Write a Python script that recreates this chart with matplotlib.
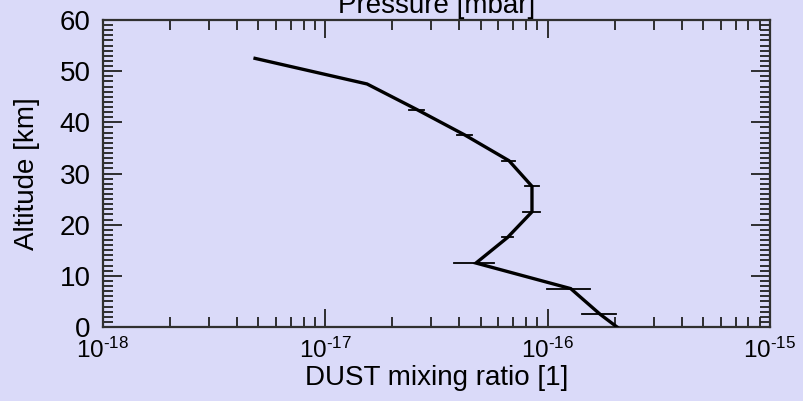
import math
import matplotlib
matplotlib.use("Agg")
import matplotlib.pyplot as plt
from matplotlib.ticker import FixedLocator, NullFormatter, FuncFormatter

plt.rcParams['font.family'] = ['Liberation Sans', 'DejaVu Sans']
plt.rcParams['mathtext.fontset'] = 'custom'
plt.rcParams['mathtext.rm'] = 'Liberation Sans'

# DUST profile (altitude in km, mixing ratio)
altitude = [0.0, 2.5, 7.5, 12.5, 17.5, 22.5, 27.5, 32.5, 37.5, 42.5, 47.5, 52.5]
dust = [2.05e-16, 1.72e-16, 1.27e-16, 4.76e-17, 6.6e-17, 8.5e-17, 8.5e-17,
        6.7e-17, 4.25e-17, 2.58e-17, 1.54e-17, 4.83e-18]

# error bars
err_alt = [2.5, 7.5, 12.5, 17.5, 22.5, 27.5, 32.5, 37.5, 42.5]
err_val = [1.72e-16, 1.27e-16, 4.76e-17, 6.6e-17, 8.5e-17, 8.5e-17, 6.7e-17, 4.25e-17, 2.58e-17]
err_half = [0.3e-16, 0.28e-16, 0.95e-17, 0.35e-17, 0.75e-17, 0.6e-17, 0.45e-17, 0.33e-17, 0.2e-17]

decades = [-18, -17, -16, -15]

bg = "#dadaf9"
fig = plt.figure(figsize=(8.04, 4.01), dpi=100, facecolor=bg)
ax = fig.add_axes([103/804, 74/401, 667/804, 307/401])
ax.set_facecolor(bg)

ax.plot(dust, altitude, color="black", lw=2.4, solid_joinstyle="miter", zorder=3)
for a, v, h in zip(err_alt, err_val, err_half):
    ax.plot([v - h, v + h], [a, a], color="black", lw=1.3, zorder=3)

ax.set_xscale("log")
ax.set_xlim(1e-18, 1e-15)
ax.set_ylim(0, 60)

def sci_label(v, pos):
    return r"$\mathregular{10^{\text{-%d}}}$" % round(-math.log10(v))

major_x = [10.0 ** d for d in decades]
minor_x = [k * 10.0 ** d for d in decades[:-1] for k in range(2, 10)]
ax.xaxis.set_major_locator(FixedLocator(major_x))
ax.xaxis.set_minor_locator(FixedLocator(minor_x))
ax.xaxis.set_minor_formatter(NullFormatter())
ax.xaxis.set_major_formatter(FuncFormatter(sci_label))
ax.yaxis.set_major_locator(FixedLocator(range(0, 61, 10)))
ax.yaxis.set_minor_locator(FixedLocator(range(0, 61, 1)))

ax.tick_params(which="both", direction="in", top=True, right=True, colors="#202020",
               labelcolor="black")
ax.tick_params(axis="x", which="major", length=13, width=1.3, pad=8, labelsize=17.5)
ax.tick_params(axis="x", which="minor", length=7, width=1.3)
ax.tick_params(axis="y", which="major", length=14, width=1.3, pad=9, labelsize=20)
ax.tick_params(axis="y", which="minor", length=7, width=1.3)
for s in ax.spines.values():
    s.set_linewidth(1.6)
    s.set_color("#303030")

ax.set_xlabel("DUST mixing ratio [1]", fontsize=20, labelpad=1)
ax.set_ylabel("Altitude [km]", fontsize=20, labelpad=14)
ax.set_title("Pressure [mbar]", fontsize=20, pad=5)

fig.savefig("out.png", dpi=100, facecolor=bg)
